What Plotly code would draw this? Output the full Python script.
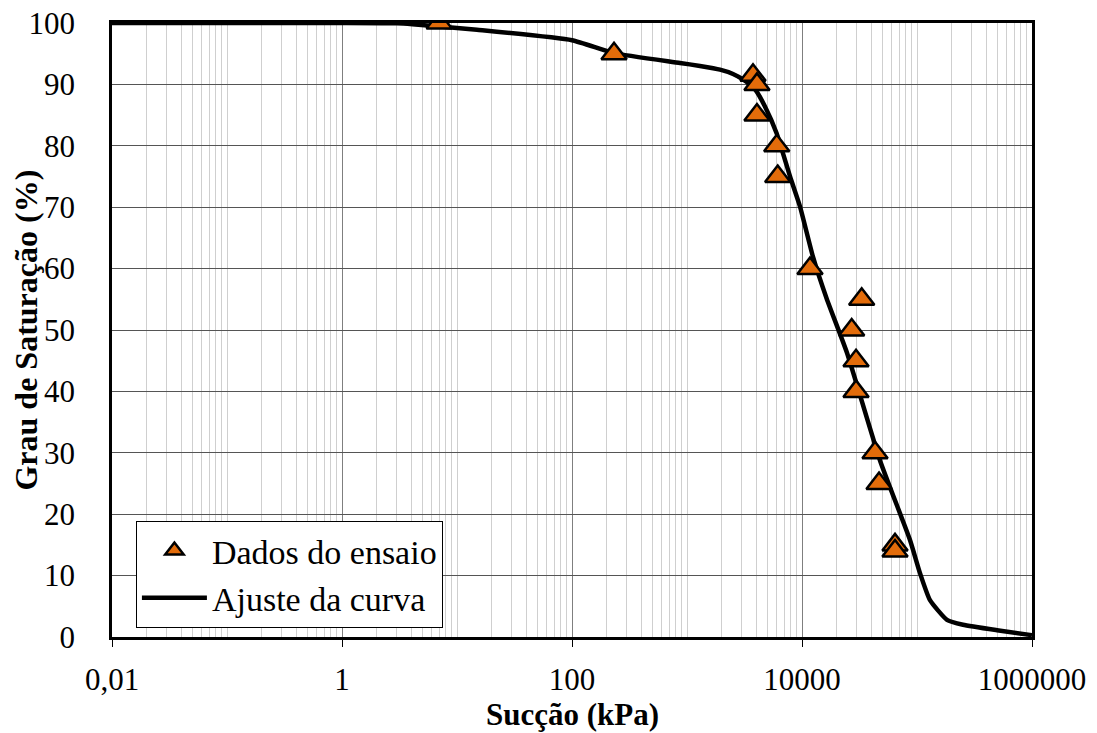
import plotly.graph_objects as go

# Experimental data (Dados do ensaio)
suction_data = [7, 232, 3750, 4060, 4060, 6030, 6150, 11740, 33040, 27040, 29500, 29500, 43150, 46770, 64400, 64400]
saturation_data = [100, 95, 91.5, 90, 85, 80, 75, 60, 55, 50, 45, 40, 30, 25, 15, 14]

# Fitted curve (Ajuste da curva)
suction_fit = [0.01, 0.1, 1, 3, 4.1, 14.9, 100, 232, 869, 1297, 1936, 2512, 3069, 3899, 4763, 6026, 7870,
               9611, 12470, 16400, 24600, 47600, 86900, 106200, 129700, 182300, 251200, 496400, 1000000]
saturation_fit = [100, 100, 100, 99.95, 99.8, 98.9, 97.2, 95.1, 93.5, 93.0, 92.4, 91.7, 90.8, 89.2, 86.4, 82.0, 75.0,
                  70.1, 61.9, 55.1, 46.3, 28.8, 15.8, 10.4, 6.0, 2.8, 2.0, 1.1, 0.3]

x_tickvals = [0.01, 1, 100, 10000, 1000000]
x_ticktext = ["0,01", "1", "100", "10000", "1000000"]
y_tickvals = [0, 10, 20, 30, 40, 50, 60, 70, 80, 90, 100]

FONT = "Liberation Serif, Times New Roman, serif"

fig = go.Figure()
fig.add_trace(go.Scatter(
    x=suction_fit, y=saturation_fit, mode="lines", name="Ajuste da curva",
    legendgroup="b", legendrank=2,
    line=dict(color="black", width=4.5, shape="spline", smoothing=0.5),
))
fig.add_trace(go.Scatter(
    x=suction_data, y=saturation_data, mode="markers", name="Dados do ensaio",
    legendgroup="a", legendrank=1,
    marker=dict(symbol="triangle-up", size=22, color="#E36C0A",
                line=dict(color="black", width=2.5)),
))

fig.update_layout(
    width=1097, height=733,
    margin=dict(l=112, r=65, t=23, b=96, autoexpand=False),
    paper_bgcolor="white", plot_bgcolor="white",
    font=dict(family=FONT, size=31, color="black"),
    showlegend=True,
    legend=dict(
        x=0.026, y=0.189, xanchor="left", yanchor="top",
        bgcolor="white", bordercolor="black", borderwidth=1,
        font=dict(family=FONT, size=34, color="black"),
        traceorder="grouped", tracegroupgap=0,
        itemwidth=65,
    ),
    annotations=[
        dict(text="<b>Sucção (kPa)</b>", xref="paper", yref="paper", x=0.5, y=-0.127,
             xanchor="center", yanchor="middle", showarrow=False,
             font=dict(family=FONT, size=31, color="black")),
        dict(text="<b>Grau de Saturação (%)</b>", xref="paper", yref="paper", x=-0.094, y=0.5,
             xanchor="center", yanchor="middle", showarrow=False, textangle=-90,
             font=dict(family=FONT, size=32, color="black")),
    ],
)

fig.update_xaxes(
    type="log", range=[-2, 6], automargin=False,
    tickvals=x_tickvals, ticktext=x_ticktext,
    showgrid=True, gridcolor="#7f7f7f", gridwidth=1,
    minor=dict(dtick="D1", showgrid=True, gridcolor="#cfcfcf", gridwidth=1, ticks=""),
    showline=True, linecolor="black", linewidth=2.5, mirror=True,
    ticks="outside", ticklen=7, tickcolor="black", tickwidth=1,
    ticklabelstandoff=6,
    tickfont=dict(family=FONT, size=31),
    zeroline=False,
)
fig.update_yaxes(
    range=[0, 100], tickvals=y_tickvals, automargin=False,
    showgrid=True, gridcolor="#555555", gridwidth=1,
    showline=True, linecolor="black", linewidth=2.5, mirror=True,
    ticks="", ticklabelstandoff=28,
    tickfont=dict(family=FONT, size=31),
    zeroline=False,
)

fig.write_html("out.html")
